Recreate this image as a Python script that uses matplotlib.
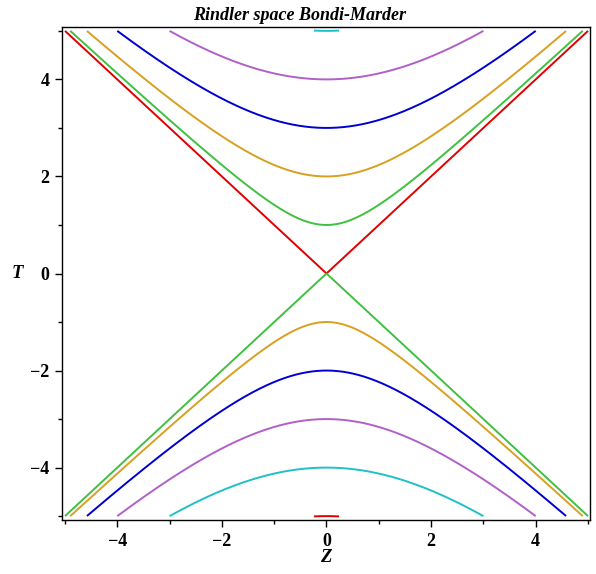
import numpy as np
import matplotlib
matplotlib.use('Agg')
import matplotlib.pyplot as plt
from matplotlib.ticker import MultipleLocator, FuncFormatter

# Hyperbolas T = +/- sqrt(Z^2 + a^2) for the levels below
upper_levels = [0, 1, 2, 3, 4, 5]
upper_colors = ['#e00000', '#40c040', '#d8a020', '#0000d0', '#b060c8', '#20c0c8']
lower_levels = [0, 1, 2, 3, 4, 5]
lower_colors = ['#40c040', '#d8a020', '#0000d0', '#b060c8', '#20c0c8', '#e00000']

z_range = (-5, 5)
view = 5.006  # Maple view: curves are cut at |T| = 5

plt.rcParams['font.family'] = ['Liberation Serif', 'DejaVu Serif']

fig = plt.figure(figsize=(5.96, 5.74), dpi=100)
W, H = 596, 574
ax = fig.add_axes([62 / W, (H - 520) / H, (590 - 62) / W, (520 - 27) / H])

z = np.linspace(z_range[0], z_range[1], 1001)


def cut(t):
    # drop the part outside the view window
    return np.where(np.abs(t) <= view, t, np.nan)


for a, c in zip(upper_levels, upper_colors):
    ax.plot(z, cut(np.sqrt(z ** 2 + a ** 2)), color=c, lw=1.4, solid_capstyle='butt')
for a, c in zip(lower_levels, lower_colors):
    ax.plot(z, cut(-np.sqrt(z ** 2 + a ** 2)), color=c, lw=1.4, solid_capstyle='butt')

ax.set_xlim(-5.057, 5.038)
ax.set_ylim(-5.08, 5.08)

for axis in (ax.xaxis, ax.yaxis):
    axis.set_major_locator(MultipleLocator(2))
    axis.set_minor_locator(MultipleLocator(1))
    axis.set_major_formatter(FuncFormatter(lambda v, p: ('\u2212' if v < 0 else '') + '%d' % abs(v)))

ax.tick_params(which='major', direction='out', length=5, width=1, labelsize=13, pad=4)
ax.tick_params(which='minor', direction='out', length=3, width=1)
for lab in ax.get_xticklabels() + ax.get_yticklabels():
    lab.set_fontweight('bold')

for s in ax.spines.values():
    s.set_linewidth(1)

fig.text(17 / W, 1 - 273 / H, 'T', fontsize=13.5, fontweight='bold', fontstyle='italic',
         ha='center', va='center')
fig.text(326 / W, 1 - 557 / H, 'Z', fontsize=13.5, fontweight='bold', fontstyle='italic',
         ha='center', va='center')
fig.text(0.503, 1 - 15 / H, 'Rindler space Bondi-Marder', fontsize=13, fontweight='bold',
         fontstyle='italic', ha='center', va='center')

fig.savefig('out.png', dpi=100)
